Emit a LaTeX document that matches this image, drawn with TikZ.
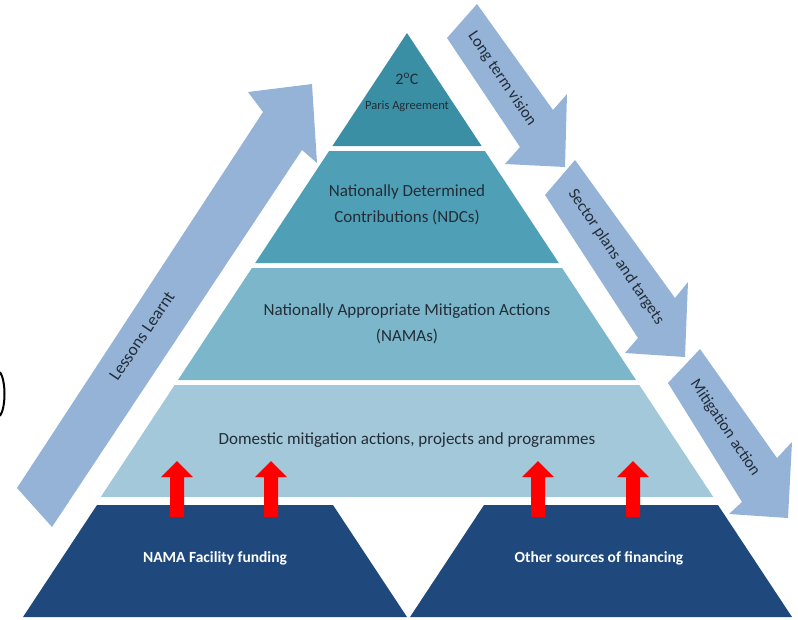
\documentclass[tikz,border=0pt]{standalone}
\usepackage{fontspec}
\setmainfont{Carlito}
\definecolor{tealA}{RGB}{58,143,165}
\definecolor{tealB}{RGB}{79,160,182}
\definecolor{tealC}{RGB}{123,182,202}
\definecolor{tealD}{RGB}{162,200,217}
\definecolor{navyBase}{RGB}{31,73,125}
\definecolor{arrowBlue}{RGB}{149,179,215}
\definecolor{textDark}{RGB}{35,45,55}

\begin{document}
\begin{tikzpicture}
[x=1pt,y=-1pt,%
  layerText/.style={align=center,text=textDark,font=\fontsize{17}{26}\selectfont},%
  baseText/.style={text=white,font=\bfseries\fontsize{15.5}{18}\selectfont},%
  arrowText/.style={text=textDark,font=\fontsize{16.3}{19}\selectfont},%
  upArrow/.style={fill=red},%
  blockArrow/.style={fill=arrowBlue}]
\useasboundingbox (0,0) rectangle (798,619);
%% pyramid: top triangle and three layers
\fill[tealA] (407,33) -- (481.6,146) -- (332.4,146) -- cycle;
\foreach \nodename/\ytop/\ybot/\colour in {
  ndc/151/263/tealB, nama/268/380/tealC, dom/385/497/tealD}
{
  \fill[\colour] ({407-0.66*(\ytop-33)},\ytop) -- ({407+0.66*(\ytop-33)},\ytop)
    -- ({407+0.66*(\ybot-33)},\ybot) -- ({407-0.66*(\ybot-33)},\ybot) -- cycle;
}
%% layer labels
\node[layerText,font=\fontsize{16}{18}\selectfont] (temp) at (407,79) {2\textsuperscript{o}C};
\node[layerText,font=\fontsize{12.5}{14}\selectfont] (paris) at (407,106) {Paris Agreement};
\node[layerText] (ndcText) at (407,205) {Nationally Determined\\Contributions (NDCs)};
\node[layerText] (namaText) at (407,324) {Nationally Appropriate Mitigation Actions\\(NAMAs)};
\node[layerText] (domText) at (407,440) {Domestic mitigation actions, projects and programmes};
%% funding bases
\fill[navyBase] (97,505) -- (333,505) -- (407,617) -- (23,617) -- cycle;
\fill[navyBase] (484,505) -- (718,505) -- (792,617) -- (410,617) -- cycle;
\node[baseText] (namaFund) at (215,558) {NAMA Facility funding};
\node[baseText] (otherFund) at (599,558) {Other sources of financing};
%% red arrows from the bases
\foreach \x in {177,271,538,633}
{
  \fill[upArrow] ({\x-7},517) -- ({\x-7},477) -- ({\x-16},477) -- (\x,461)
    -- ({\x+16},477) -- ({\x+7},477) -- ({\x+7},517) -- cycle;
}
%% block arrows and their labels
\fill[blockArrow] (17,488) -- (263,112) -- (248,92) -- (312,84) -- (317,163)
  -- (302,150) -- (52,527) -- cycle;
\fill[blockArrow] (477,4) -- (553,110) -- (567,94) -- (565,167) -- (505,164)
  -- (520,147) -- (447,38) -- cycle;
\fill[blockArrow] (575,160) -- (675,298) -- (688,282) -- (685,357) -- (625,353)
  -- (638,338) -- (545,195) -- cycle;
\fill[blockArrow] (700,349) -- (777,458) -- (792,442) -- (788,518) -- (729,514)
  -- (742,502) -- (668,383) -- cycle;
\node[arrowText,rotate=56,font=\fontsize{17.3}{19}\selectfont] (lessons) at (142,336) {Lessons Learnt};
\node[arrowText,rotate=-56] (vision) at (502,79) {Long term vision};
\node[arrowText,rotate=-56] (sector) at (616,257) {Sector plans and targets};
\node[arrowText,rotate=-56] (mitig) at (725,428) {Mitigation action};
%% cut off bracket at the left edge
\draw[line width=2pt] (0,372) .. controls (6,381) and (6,407) .. (0,416);
\end{tikzpicture}
\end{document}
